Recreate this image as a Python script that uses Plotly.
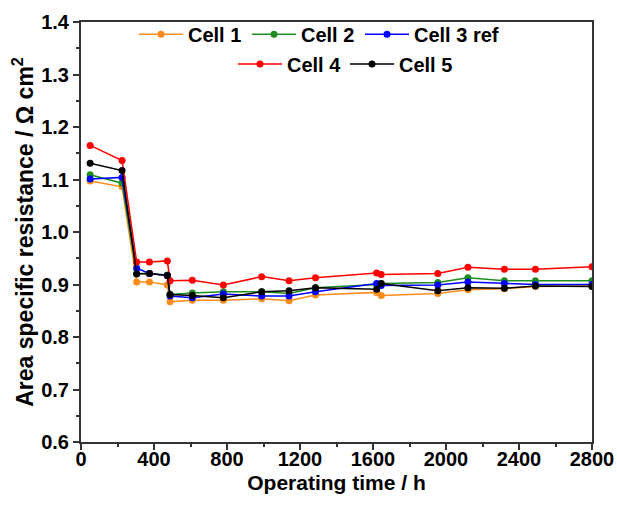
import plotly.graph_objects as go

hours = [50, 225, 305, 375, 473, 488, 610, 780, 990, 1140, 1285, 1620, 1645, 1955, 2120, 2320, 2490, 2800]
cell1 = [1.097, 1.086, 0.905, 0.905, 0.899, 0.867, 0.870, 0.870, 0.873, 0.869, 0.880, 0.885, 0.879, 0.883, 0.890, 0.892, 0.896, 0.897]
cell2 = [1.109, 1.093, 0.921, 0.921, 0.918, 0.881, 0.884, 0.886, 0.886, 0.883, 0.894, 0.900, 0.902, 0.904, 0.913, 0.907, 0.907, 0.907]
cell3 = [1.101, 1.104, 0.931, 0.921, 0.917, 0.878, 0.875, 0.882, 0.878, 0.878, 0.886, 0.902, 0.898, 0.899, 0.905, 0.902, 0.900, 0.900]
cell4 = [1.165, 1.136, 0.943, 0.943, 0.945, 0.907, 0.908, 0.899, 0.915, 0.907, 0.913, 0.922, 0.919, 0.921, 0.933, 0.929, 0.929, 0.934]
cell5 = [1.131, 1.117, 0.920, 0.921, 0.917, 0.881, 0.879, 0.875, 0.886, 0.888, 0.894, 0.891, 0.902, 0.888, 0.894, 0.893, 0.897, 0.896]

names = ["Cell 1", "Cell 2", "Cell 3 ref", "Cell 4", "Cell 5"]
series = [cell1, cell2, cell3, cell4, cell5]
colors = ["#FF8C1A", "#1E8C1E", "#0000FF", "#FF0000", "#000000"]
legend_ids = ["legend", "legend2", "legend3", "legend4", "legend5"]
# legend entry left edges (px) and vertical positions (paper)
legend_x_px = [139, 252, 365, 238, 350]
legend_y = [0.971, 0.971, 0.971, 0.9, 0.9]

FONT = "Liberation Sans, Arial, sans-serif"
PLOT_L, PLOT_W = 81, 511

fig = go.Figure()
for n, s, c, lg in zip(names, series, colors, legend_ids):
    fig.add_trace(go.Scatter(
        x=hours, y=s, name=n, mode="lines+markers",
        line=dict(color=c, width=1.5),
        marker=dict(color=c, size=7),
        legend=lg,
    ))

legend_layout = {}
for lg, xp, yp in zip(legend_ids, legend_x_px, legend_y):
    legend_layout[lg] = dict(
        orientation="h", xanchor="left", yanchor="middle",
        x=(xp - PLOT_L - 5) / PLOT_W, y=yp,
        bgcolor="rgba(0,0,0,0)",
        font=dict(family=FONT, size=20, color="black", weight="bold"),
        itemwidth=44,
    )

fig.update_layout(
    width=617, height=507,
    margin=dict(l=81, r=25, t=22, b=65),
    plot_bgcolor="white", paper_bgcolor="white",
    font=dict(family=FONT, color="black"),
    showlegend=True,
    xaxis=dict(
        range=[0, 2800], tickmode="linear", tick0=0, dtick=400, automargin=False,
        showgrid=False, zeroline=False,
        showline=True, linecolor="#333333", linewidth=2, mirror=True,
        ticks="outside", ticklen=6, tickwidth=1.5, tickcolor="#333333",
        minor=dict(ticks="outside", ticklen=3, tickwidth=1.5, tickcolor="#333333", dtick=200),
        tickfont=dict(family=FONT, size=20, color="black", weight="bold"),
        ticklabelstandoff=-8,
        title=dict(text="Operating time / h", standoff=6,
                   font=dict(family=FONT, size=21, color="black", weight="bold")),
    ),
    yaxis=dict(
        range=[0.6, 1.4], tickmode="linear", tick0=0.6, dtick=0.1, tickformat=".1f", automargin=False,
        showgrid=False, zeroline=False,
        showline=True, linecolor="#333333", linewidth=2, mirror=True,
        ticks="outside", ticklen=6, tickwidth=1.5, tickcolor="#333333",
        minor=dict(ticks="outside", ticklen=3, tickwidth=1.5, tickcolor="#333333", dtick=0.05),
        tickfont=dict(family=FONT, size=20, color="black", weight="bold"),
        title=dict(text="Area specific resistance / Ω cm<sup>2</sup>", standoff=1,
                   font=dict(family=FONT, size=23, color="black", weight="bold")),
    ),
    **legend_layout,
)

fig.write_html("out.html")
